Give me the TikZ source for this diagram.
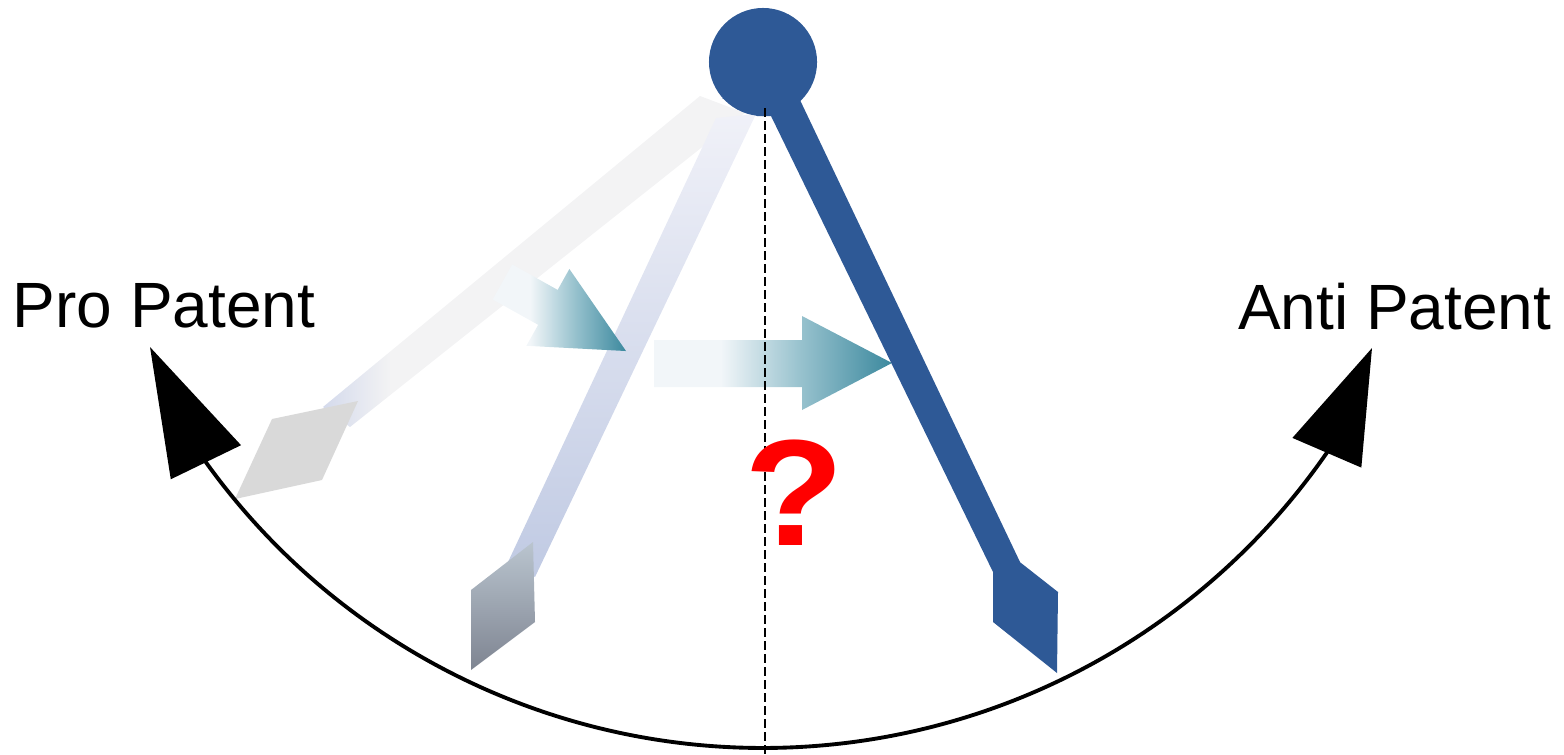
\documentclass[tikz,border=0pt]{standalone}
\usepackage{fontspec}
\setmainfont{Liberation Sans}
\usetikzlibrary{arrows.meta}

\definecolor{pendblue}{RGB}{46,89,150}
\definecolor{rodgray}{RGB}{243,243,244}
\definecolor{rodlav}{RGB}{212,218,236}
\definecolor{tipgray}{RGB}{217,217,217}
\definecolor{rodtwotop}{RGB}{240,241,248}
\definecolor{rodtwobot}{RGB}{192,202,227}
\definecolor{tiptwotop}{RGB}{186,197,207}
\definecolor{tiptwobot}{RGB}{126,132,145}
\definecolor{tealpale}{RGB}{242,246,249}
\definecolor{tealmid}{RGB}{150,193,205}
\definecolor{tealdark}{RGB}{60,137,158}

\pgfdeclarehorizontalshading{tealfade}{100bp}{color(0bp)=(tealpale); color(25bp)=(tealpale); color(39bp)=(tealpale); color(56bp)=(tealmid); color(75bp)=(tealdark); color(100bp)=(tealdark)}
\pgfdeclarehorizontalshading{rodfade}{100bp}{color(0bp)=(rodlav); color(25bp)=(rodlav); color(33bp)=(rodgray); color(100bp)=(rodgray)}

\tikzset{
    camp/.style={inner sep=0, font=\fontsize{18.2}{20}\selectfont},
    plumb/.style={black, line width=0.8pt, dash pattern=on 0.085cm off 0.045cm},
    swing/.style={black, line width=1.1pt}
}

\begin{document}
\begin{tikzpicture}[x=0.01cm, y=-0.01cm]
    \useasboundingbox (0,0) rectangle (1564,754);

    % Earlier positions
    \shade[shading=rodfade] (700,96) -- (745,113) -- (350,427) -- (323,407) -- cycle;
    \fill[tipgray] (272,419) -- (358,401) -- (322,480) -- (235,499) -- cycle;
    \shade[top color=rodtwotop, bottom color=rodtwobot] (716,118) -- (756,114) -- (535,577) -- (508,562) -- cycle;
    \shade[top color=tiptwotop, bottom color=tiptwobot] (533,542) -- (535,622) -- (471,670) -- (471,590) -- cycle;

    % Movement
    \begin{scope}[shift={(502.5,282)}, rotate=-29.2]
        \shade[shading=tealfade] (0,-20) -- (52,-20) -- (52,-44) -- (141.5,0) -- (52,44) -- (52,20) -- (0,20) -- cycle;
    \end{scope}
    \shade[shading=tealfade] (654,340) -- (802,340) -- (802,316) -- (892,363) -- (802,410) -- (802,387) -- (654,387) -- cycle;

    % Current position
    \fill[pendblue] (722,98) -- (757,116) -- (771,116) -- (993,572) -- (1020,562) -- (800,100) -- cycle;
    \fill[pendblue] (993,541) -- (1058,592) -- (1057,673) -- (993,622) -- cycle;
    \node[circle, fill=pendblue, minimum size=1.08cm, inner sep=0] (pivot) at (763,62) {};

    % Vertical
    \coordinate (plumbtop) at (765,108);
    \coordinate (plumbbot) at (765,754);
    \draw[plumb] (plumbtop) -- (plumbbot);

    % Range
    \coordinate (tipL) at (150,347);
    \coordinate (tipR) at (1372,348);
    \path (pivot.center) ++(144.3:686) coordinate (baseL);
    \draw[swing, {Triangle[length=12.8mm, width=7.7mm]}-{Triangle[length=11.4mm, width=7.4mm]}]
        (tipL) -- (baseL) arc[start angle=144.3, end angle=34.7, radius=686] -- (tipR);

    \node[camp, anchor=base west] (pro) at (12,327) {Pro Patent};
    \node[camp, anchor=base east] (anti) at (1552,329) {Anti Patent};
    \node[inner sep=0, anchor=base, text=red, font=\fontsize{43}{43}\selectfont\bfseries] (doubt) at (794,545) {\scalebox{1.08}[1]{?}};
\end{tikzpicture}
\end{document}
